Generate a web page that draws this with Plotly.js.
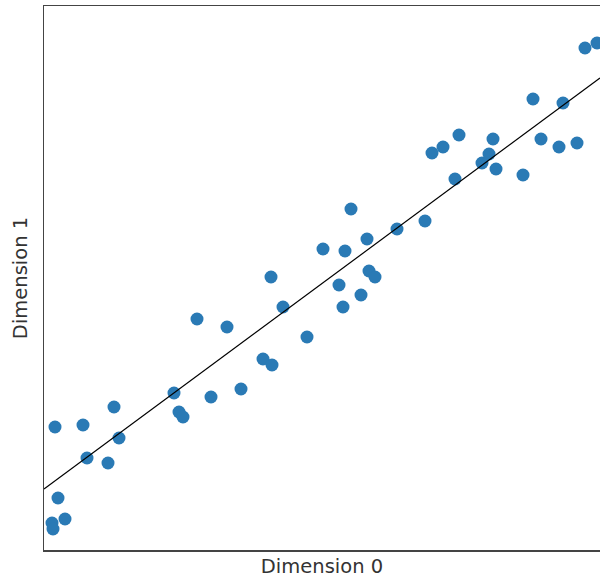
<!DOCTYPE html>
<html>
<head>
<meta charset="utf-8">
<script src="https://cdn.plot.ly/plotly-3.0.1.min.js"></script>
<style>html,body{margin:0;padding:0;background:#fff;}#chart{width:600px;height:578px;}</style>
</head>
<body>
<div id="chart"></div>
<script>
const dim0 = [11,39,43,64,70,75,14,8,9,21,130,135,139,153,167,183,197,219,228,227,239,263,279,295,299,301,307,317,323,325,331,353,381,388,399,411,415,438,445,449,452,479,489,497,515,519,533,541,553];
const dim1 = [123,125,92,87,143,112,52,27,21,31,157,138,133,231,153,223,161,191,185,273,243,213,301,265,243,299,341,255,311,279,273,321,329,397,403,371,415,387,396,411,381,375,451,411,403,447,407,502,507];
const fitX = [0, 556];
const fitY = [61, 472];

const traces = [
  {x: dim0, y: dim1, type: 'scatter', mode: 'markers',
   marker: {color: '#2a7ab5', size: 13, line: {width: 0}}, hoverinfo: 'skip'},
  {x: fitX, y: fitY, type: 'scatter', mode: 'lines',
   line: {color: '#000000', width: 1.2}, hoverinfo: 'skip'}
];
const layout = {
  width: 600, height: 578,
  margin: {l: 44, r: 0, t: 6, b: 28},
  paper_bgcolor: '#ffffff', plot_bgcolor: '#ffffff',
  showlegend: false,
  font: {family: 'DejaVu Sans', color: '#333333'},
  xaxis: {range: [0, 556], showgrid: false, zeroline: false, showticklabels: false, ticks: '',
          showline: true, mirror: true, linecolor: '#444', linewidth: 1.5,
          title: {text: 'Dimension 0', font: {size: 19.5, family: 'DejaVu Sans', color: '#333333'}, standoff: 9}},
  yaxis: {range: [0, 544], showgrid: false, zeroline: false, showticklabels: false, ticks: '',
          showline: true, mirror: false, linecolor: '#444', linewidth: 1.5,
          title: {text: 'Dimension 1', font: {size: 19.5, family: 'DejaVu Sans', color: '#333333'}, standoff: 9}}
};
Plotly.newPlot('chart', traces, layout, {staticPlot: true, displayModeBar: false});
</script>
</body>
</html>
